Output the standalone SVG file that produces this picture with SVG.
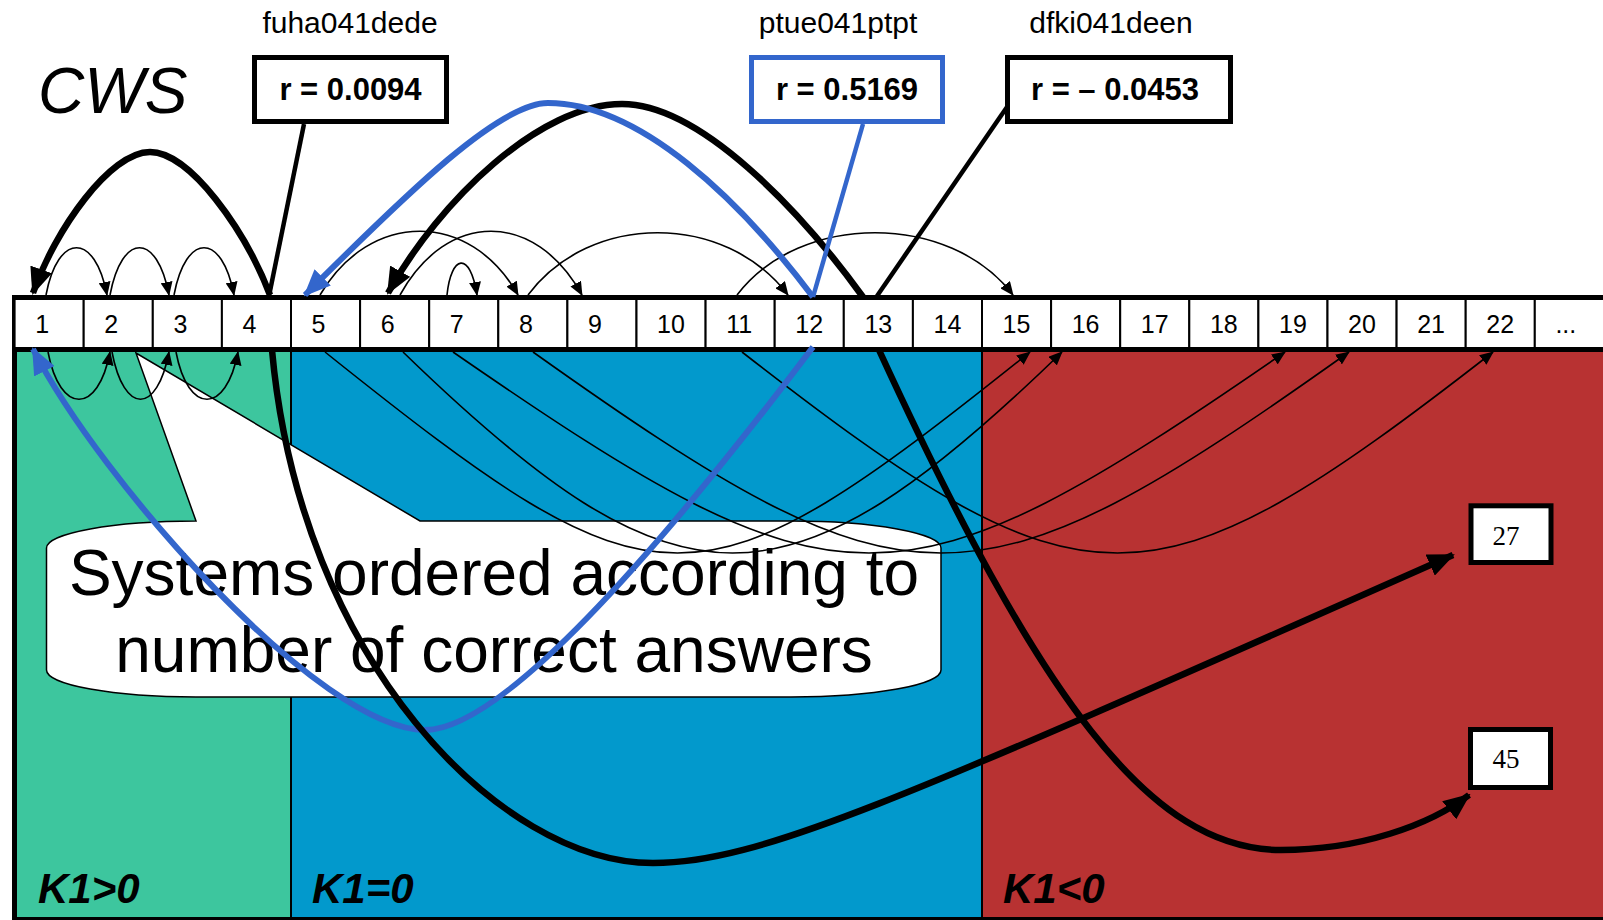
<svg xmlns="http://www.w3.org/2000/svg" width="1603" height="920" viewBox="0 0 1603 920">
<style>
text{font-family:"Liberation Sans",Arial,Helvetica,sans-serif;fill:#000}
.num{font-size:25px}
.lbl{font-size:30px;text-anchor:middle}
.rv{font-size:31px;font-weight:bold;text-anchor:middle}
.k{font-size:42px;font-weight:bold;font-style:italic}
.big{font-size:64px;text-anchor:middle}
.rank{font-family:"Liberation Serif","Times New Roman",serif;font-size:27px;text-anchor:middle}
.cell{fill:#fff;stroke:#000;stroke-width:2}
.thin{fill:none;stroke:#000;stroke-width:1.6;marker-end:url(#aThin)}
.thick{fill:none;stroke:#000;stroke-width:6.5;marker-end:url(#aThick)}
.blue{fill:none;stroke:#3366CC;stroke-width:6;marker-end:url(#aBlue)}
.ptr{fill:none;stroke:#000;stroke-width:4.5}
.bptr{fill:none;stroke:#3366CC;stroke-width:4.5}
.box{fill:#fff;stroke:#000;stroke-width:5}
.bbox{fill:#fff;stroke:#3366CC;stroke-width:5}
.sep{stroke:#000;stroke-width:2}
</style>
<defs>
<marker id="aThin" markerUnits="userSpaceOnUse" markerWidth="14" markerHeight="12" refX="13" refY="6" orient="auto"><path d="M0,0 L14,6 L0,12 z" fill="#000"/></marker>
<marker id="aThick" markerUnits="userSpaceOnUse" markerWidth="27" markerHeight="23" refX="25" refY="11.5" orient="auto"><path d="M0,0 L27,11.5 L0,23 z" fill="#000"/></marker>
<marker id="aBlue" markerUnits="userSpaceOnUse" markerWidth="27" markerHeight="23" refX="25" refY="11.5" orient="auto"><path d="M0,0 L27,11.5 L0,23 z" fill="#3366CC"/></marker>
</defs>

<g id="regions">
<rect x="15" y="350" width="276" height="568" fill="#3DC69E"/>
<rect x="291" y="350" width="691" height="568" fill="#0299CC"/>
<rect x="982" y="350" width="621" height="568" fill="#B83232"/>
<line class="sep" x1="291" y1="350" x2="291" y2="918"/>
<line class="sep" x1="982" y1="350" x2="982" y2="918"/>
<line x1="12" y1="918.5" x2="1603" y2="918.5" stroke="#000" stroke-width="3"/>
<line x1="14.5" y1="295" x2="14.5" y2="920" stroke="#000" stroke-width="5"/>
</g>

<g id="callout">
<path d="M46.5,548 A150,27 0 0 1 196,521 L136,353 L420,521 L791,521 A150,27 0 0 1 941,548 L941,670 A150,27 0 0 1 791,697 L196,697 A150,27 0 0 1 46.5,670 Z" fill="#fff" stroke="#000" stroke-width="1.5"/>
<text class="big" x="494" y="595">Systems ordered according to</text>
<text class="big" x="494" y="672">number of correct answers</text>
</g>

<g id="row">
<g id="cell-1"><rect class="cell" x="14.6" y="297.5" width="69.1" height="52"/><text class="num" x="35.2" y="333">1</text></g>
<g id="cell-2"><rect class="cell" x="83.7" y="297.5" width="69.1" height="52"/><text class="num" x="104.3" y="333">2</text></g>
<g id="cell-3"><rect class="cell" x="152.8" y="297.5" width="69.1" height="52"/><text class="num" x="173.4" y="333">3</text></g>
<g id="cell-4"><rect class="cell" x="221.9" y="297.5" width="69.1" height="52"/><text class="num" x="242.5" y="333">4</text></g>
<g id="cell-5"><rect class="cell" x="291" y="297.5" width="69.1" height="52"/><text class="num" x="311.6" y="333">5</text></g>
<g id="cell-6"><rect class="cell" x="360.1" y="297.5" width="69.1" height="52"/><text class="num" x="380.7" y="333">6</text></g>
<g id="cell-7"><rect class="cell" x="429.2" y="297.5" width="69.1" height="52"/><text class="num" x="449.8" y="333">7</text></g>
<g id="cell-8"><rect class="cell" x="498.3" y="297.5" width="69.1" height="52"/><text class="num" x="518.9" y="333">8</text></g>
<g id="cell-9"><rect class="cell" x="567.4" y="297.5" width="69.1" height="52"/><text class="num" x="588" y="333">9</text></g>
<g id="cell-10"><rect class="cell" x="636.5" y="297.5" width="69.1" height="52"/><text class="num" x="657.1" y="333">10</text></g>
<g id="cell-11"><rect class="cell" x="705.6" y="297.5" width="69.1" height="52"/><text class="num" x="726.2" y="333">11</text></g>
<g id="cell-12"><rect class="cell" x="774.7" y="297.5" width="69.1" height="52"/><text class="num" x="795.3" y="333">12</text></g>
<g id="cell-13"><rect class="cell" x="843.8" y="297.5" width="69.1" height="52"/><text class="num" x="864.4" y="333">13</text></g>
<g id="cell-14"><rect class="cell" x="912.9" y="297.5" width="69.1" height="52"/><text class="num" x="933.5" y="333">14</text></g>
<g id="cell-15"><rect class="cell" x="982" y="297.5" width="69.1" height="52"/><text class="num" x="1002.6" y="333">15</text></g>
<g id="cell-16"><rect class="cell" x="1051.1" y="297.5" width="69.1" height="52"/><text class="num" x="1071.7" y="333">16</text></g>
<g id="cell-17"><rect class="cell" x="1120.2" y="297.5" width="69.1" height="52"/><text class="num" x="1140.8" y="333">17</text></g>
<g id="cell-18"><rect class="cell" x="1189.3" y="297.5" width="69.1" height="52"/><text class="num" x="1209.9" y="333">18</text></g>
<g id="cell-19"><rect class="cell" x="1258.4" y="297.5" width="69.1" height="52"/><text class="num" x="1279" y="333">19</text></g>
<g id="cell-20"><rect class="cell" x="1327.5" y="297.5" width="69.1" height="52"/><text class="num" x="1348.1" y="333">20</text></g>
<g id="cell-21"><rect class="cell" x="1396.6" y="297.5" width="69.1" height="52"/><text class="num" x="1417.2" y="333">21</text></g>
<g id="cell-22"><rect class="cell" x="1465.7" y="297.5" width="69.1" height="52"/><text class="num" x="1486.3" y="333">22</text></g>
<g id="cell-more"><rect class="cell" x="1534.8" y="297.5" width="80" height="52"/><text class="num" x="1555.4" y="333">...</text></g>
<line x1="12" y1="297.5" x2="1603" y2="297.5" stroke="#000" stroke-width="5"/>
<line x1="12" y1="349.5" x2="1603" y2="349.5" stroke="#000" stroke-width="5"/>
</g>

<g id="connectors">
<path class="thin" d="M46,295 C58,232 95,232 107,295"/>
<path class="thin" d="M110,295 C122,232 157,232 169,295"/>
<path class="thin" d="M174,295 C186,232 222,232 234,295"/>
<path class="thin" d="M320,295 C370,210 470,210 518,295"/>
<path class="thin" d="M400,295 C447,210 535,210 582,295"/>
<path class="thin" d="M447,295 C451,255 470,250 477,295"/>
<path class="thin" d="M528,295 C590,212 725,212 788,295"/>
<path class="thin" d="M737,295 C800,212 950,212 1013,295"/>
<path class="thin" d="M48,352 C60,415 98,415 110,352"/>
<path class="thin" d="M112,352 C124,415 157,415 169,352"/>
<path class="thin" d="M176,352 C188,415 226,415 238,352"/>
<path class="thin" d="M325,352 C660,620 695,620 1030,352"/>
<path class="thin" d="M403,352 C679,620 786,620 1062,352"/>
<path class="thin" d="M453,352 C841,620 897,620 1285,352"/>
<path class="thin" d="M533,352 C910,620 972,620 1349,352"/>
<path class="thin" d="M742,352 C1086,620 1149,620 1493,352"/>
<path class="thick" d="M270,295 C245,230 190,152 150,152 C110,152 55,230 33,293"/>
<path class="thick" d="M863,297 C800,210 700,104 622,104 C540,104 440,200 388,293"/>
<path class="blue" d="M813,297 C740,200 640,103 548,103 C500,103 410,190 305,295"/>
<path class="blue" d="M813,347 C735,450 520,730 425,730 C320,730 100,480 33,349"/>
<path class="thick" d="M272,350 C300,660 500,863 653,863 C760,863 900,800 1453,555"/>
<path class="thick" d="M879,350 C1040,700 1150,850 1281,850 C1360,850 1430,825 1469,795"/>
<path class="ptr" d="M304,124 L269,296"/>
<path class="bptr" d="M863,124 L813,297"/>
<path class="ptr" d="M1007,107 L877,296"/>
</g>

<g id="box-fuha">
<text class="lbl" x="350" y="33">fuha041dede</text>
<rect class="box" x="254.5" y="57.5" width="192" height="64"/>
<text class="rv" x="350.5" y="100">r = 0.0094</text>
</g>
<g id="box-ptue">
<text class="lbl" x="838" y="33">ptue041ptpt</text>
<rect class="bbox" x="751.5" y="57.5" width="191" height="64"/>
<text class="rv" x="847" y="100">r = 0.5169</text>
</g>
<g id="box-dfki">
<text class="lbl" x="1111" y="33">dfki041deen</text>
<rect class="box" x="1007.5" y="57.5" width="223" height="64"/>
<text class="rv" x="1115" y="100">r = – 0.0453</text>
</g>
<g id="rank-27">
<rect class="box" x="1471" y="505.8" width="80" height="56.7"/>
<text class="rank" x="1506" y="545">27</text>
</g>
<g id="rank-45">
<rect class="box" x="1470.5" y="729.5" width="80" height="58"/>
<text class="rank" x="1506" y="768">45</text>
</g>

<g id="labels">
<text x="38" y="113" font-size="64" font-style="italic">CWS</text>
<text class="k" x="38" y="903">K1&gt;0</text>
<text class="k" x="312" y="903">K1=0</text>
<text class="k" x="1003" y="903">K1&lt;0</text>
</g>
</svg>
